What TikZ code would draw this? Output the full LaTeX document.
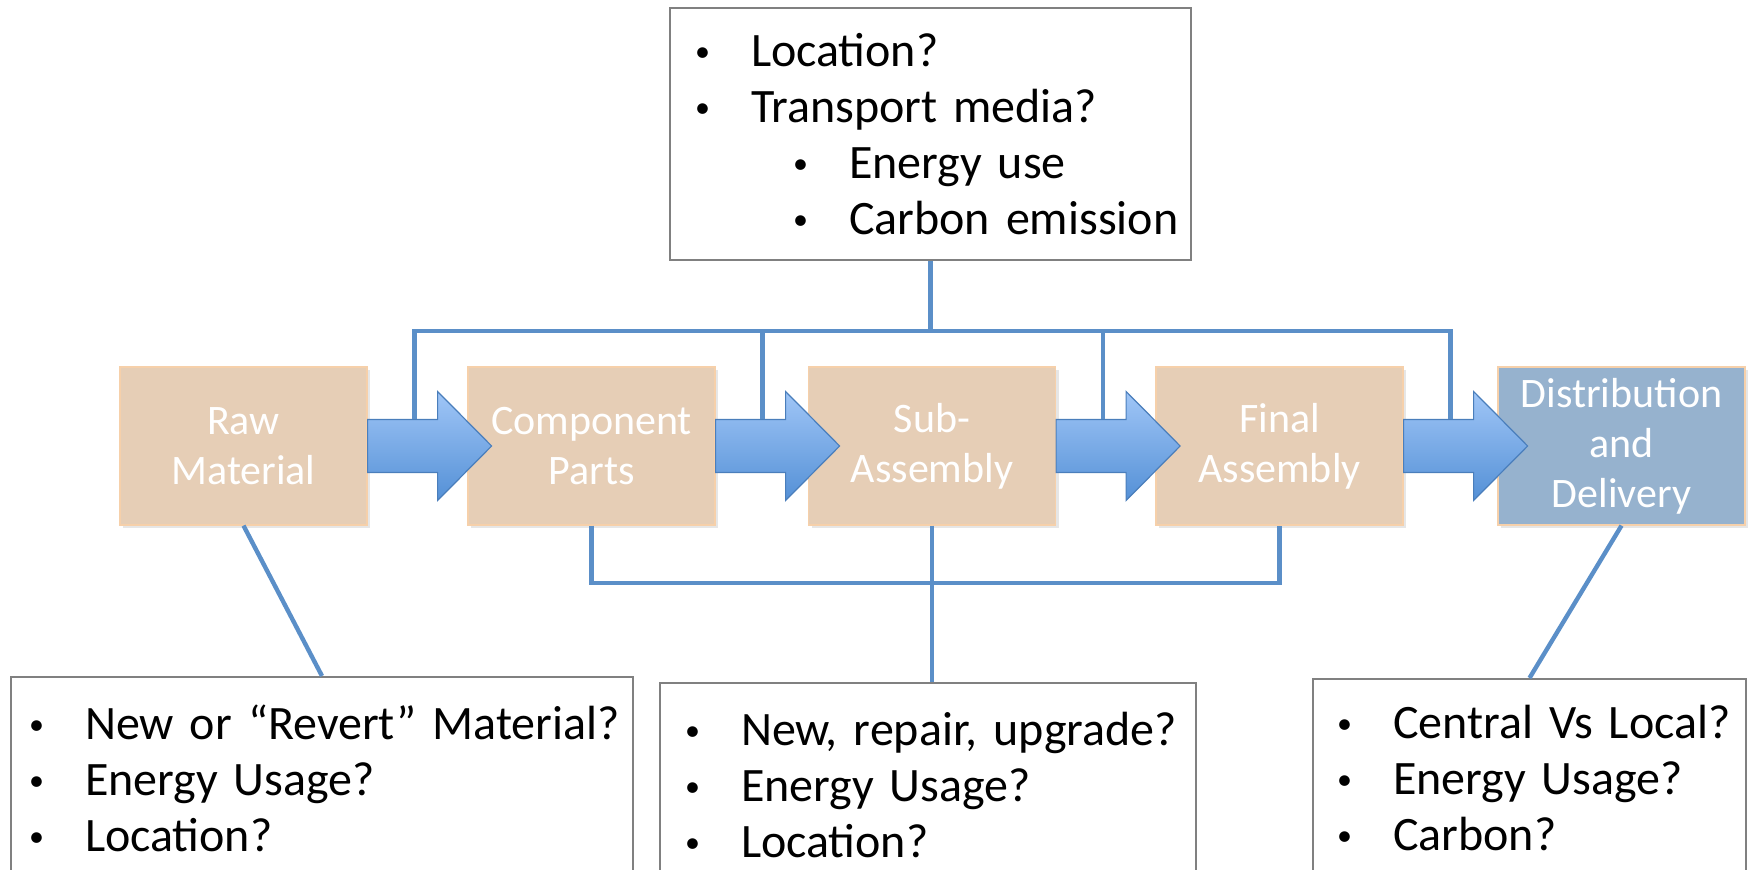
\documentclass[tikz,border=0pt]{standalone}
\usepackage{fontspec}
\setmainfont{Carlito}
\usetikzlibrary{calc,shadows}

\definecolor{stagefill}{RGB}{230,206,182}
\definecolor{stageedge}{RGB}{246,208,170}
\definecolor{distfill}{RGB}{150,178,206}
\definecolor{linkblue}{RGB}{91,143,200}
\definecolor{arrowtop}{RGB}{160,198,247}
\definecolor{arrowbot}{RGB}{84,144,214}
\definecolor{arrowedge}{RGB}{74,126,187}

% bullet lines
\newcommand{\bdot}{\hspace{2pt}\raisebox{2.5pt}{\fontsize{15}{15}\selectfont\textbullet}}
\newcommand{\bl}[1]{\mbox{\makebox[30pt][l]{\bdot}#1}}
\newcommand{\sbl}[1]{\mbox{\hspace{49pt}\makebox[30pt][l]{\bdot}#1}}
% fat arrow after a stage, with the point where the top bus drops onto it
\newcommand{\flowarrow}[2]{%
  \draw[flow] (#1.east) ++(0,-26.5) -- ++(70,0) -- ++(0,-28) -- ++(54,54.5)
    -- ++(-54,54.5) -- ++(0,-28) -- ++(-70,0) -- cycle;
  \coordinate (#2) at ($(#1.east)+(47,-26.5)$);}

\begin{document}
\begin{tikzpicture}[x=0.5pt, y=-0.5pt,
    stage/.style={rectangle, fill=stagefill, draw=stageedge, line width=0.6pt,
        minimum width=123.5pt, minimum height=79pt, inner sep=0pt, align=center,
        text=white, font=\fontsize{21}{25}\selectfont,
        drop shadow={opacity=0.2, shadow xshift=1.5pt, shadow yshift=-1.5pt}},
    note/.style={rectangle, draw=black!50, line width=0.8pt, fill=white, align=left,
        inner ysep=0pt, font=\fontsize{24}{28}\selectfont},
    flow/.style={draw=arrowedge, line width=0.6pt, top color=arrowtop, bottom color=arrowbot},
    link/.style={draw=linkblue, line width=2.2pt}]
    \clip (0,0) rectangle (1748,870);

    % Stages
    \node[stage] (raw)   at (243.5,446) {Raw\\Material};
    \node[stage] (comp)  at (591.5,446) {Component\\Parts};
    \node[stage] (sub)   at (932,446)   {Sub-\\Assembly};
    \node[stage] (final) at (1279.5,446) {Final\\Assembly};
    \node[stage, fill=distfill] (dist) at (1621.5,446) {Distribution\\and\\Delivery};

    % Arrows
    \flowarrow{raw}{drop1}
    \flowarrow{comp}{drop2}
    \flowarrow{sub}{drop3}
    \flowarrow{final}{drop4}

    % Question boxes
    \node[note, minimum width=260.5pt, minimum height=126pt, inner xsep=10.5pt, text width=239.5pt]
        (transport) at (930.5,134)
        {\bl{Location?}\\ \bl{Transport media?}\\ \sbl{Energy use}\\ \sbl{Carbon emission}};
    \node[note, anchor=north, minimum width=311pt, minimum height=101.5pt, inner xsep=7pt, text width=297pt]
        (rawq) at (322,676)
        {\bl{New or “Revert” Material?}\\ \bl{Energy Usage?}\\ \bl{Location?}};
    \node[note, anchor=north, minimum width=268pt, minimum height=102pt, inner xsep=10.5pt, text width=247pt]
        (makeq) at (928,682)
        {\bl{New, repair, upgrade?}\\ \bl{Energy Usage?}\\ \bl{Location?}};
    \node[note, anchor=north, minimum width=216.5pt, minimum height=99.5pt, inner xsep=10pt, text width=196.5pt]
        (distq) at (1529.5,678)
        {\bl{Central Vs Local?}\\ \bl{Energy Usage?}\\ \bl{Carbon?}};

    % Top bus
    \coordinate (topbus) at (0,331);
    \draw[link] (transport.south) -- (transport.south |- topbus);
    \draw[link] (drop1) -- (drop1 |- topbus) -- (drop4 |- topbus) -- (drop4);
    \draw[link] (drop2) -- (drop2 |- topbus);
    \draw[link] (drop3) -- (drop3 |- topbus);

    % Lower bus
    \coordinate (lowbus) at (0,583);
    \draw[link] (comp.south) -- (comp.south |- lowbus) -- (final.south |- lowbus) -- (final.south);
    \draw[link] (sub.south) -- (sub.south |- makeq.north);
    \draw[link] (raw.south) -- (rawq.north);
    \draw[link] (dist.south) -- (distq.north);
\end{tikzpicture}
\end{document}
